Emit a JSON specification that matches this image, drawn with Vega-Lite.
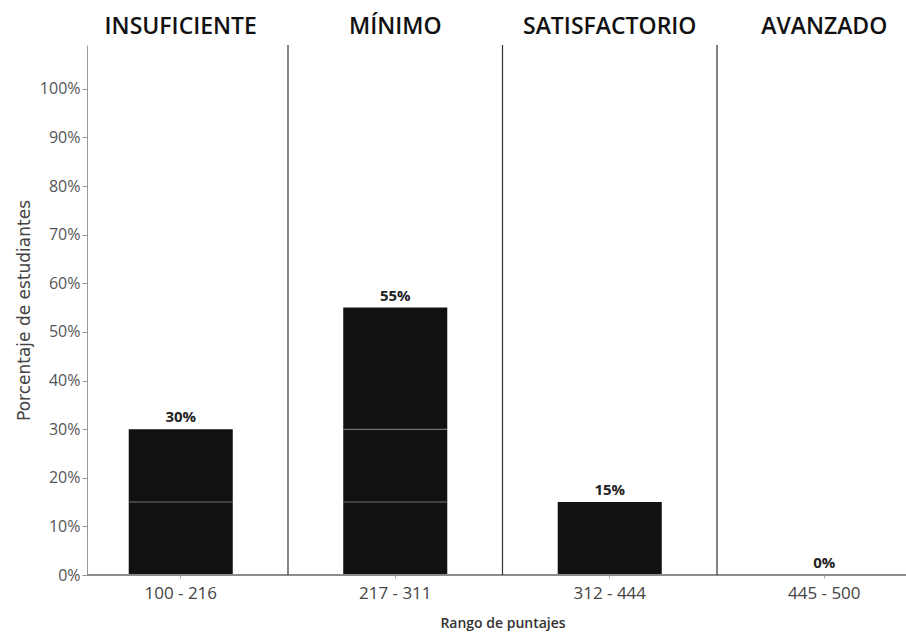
{
  "$schema": "https://vega.github.io/schema/vega-lite/v6.json",
  "width": 819,
  "height": 530,
  "autosize": {"type": "none"},
  "padding": {"left": 87, "top": 45, "right": 0, "bottom": 63},
  "background": "white",
  "config": {"view": {"stroke": null}},
  "data": {
    "values": [
      {"nivel": "INSUFICIENTE", "rango": "100 - 216", "segmento": 1, "pct": 0.15},
      {"nivel": "INSUFICIENTE", "rango": "100 - 216", "segmento": 2, "pct": 0.15},
      {"nivel": "MÍNIMO", "rango": "217 - 311", "segmento": 1, "pct": 0.15},
      {"nivel": "MÍNIMO", "rango": "217 - 311", "segmento": 2, "pct": 0.15},
      {"nivel": "MÍNIMO", "rango": "217 - 311", "segmento": 3, "pct": 0.25},
      {"nivel": "SATISFACTORIO", "rango": "312 - 444", "segmento": 1, "pct": 0.15},
      {"nivel": "AVANZADO", "rango": "445 - 500", "segmento": 1, "pct": 0}
    ]
  },
  "layer": [
    {
      "layer": [
        {
          "mark": {"type": "bar", "color": "#111111"},
          "encoding": {
            "x": {
              "field": "rango", "type": "nominal", "sort": null,
              "scale": {"range": [-13.5, 844.5], "paddingInner": 0.515, "paddingOuter": 0.2575},
              "axis": {
                "orient": "bottom", "domain": false, "ticks": true, "tickSize": 3, "tickColor": "#aaaaaa",
                "labelAngle": 0, "labelFont": "Open Sans", "labelFontSize": 17, "labelColor": "#444444",
                "labelPadding": 7,
                "title": "Rango de puntajes", "titleFont": "Open Sans", "titleFontSize": 14,
                "titleFontWeight": 600, "titleColor": "#333333", "titlePadding": 15
              }
            },
            "y": {
              "field": "pct", "type": "quantitative", "stack": "zero",
              "scale": {"domain": [0, 1.09], "nice": false},
              "axis": {
                "values": [0, 0.1, 0.2, 0.3, 0.4, 0.5, 0.6, 0.7, 0.8, 0.9, 1],
                "format": ".0%", "grid": false,
                "domainColor": "#999999", "tickColor": "#999999", "tickSize": 5,
                "labelFont": "Open Sans", "labelFontSize": 16, "labelColor": "#555555", "labelPadding": 2,
                "title": "Porcentaje de estudiantes", "titleFont": "DejaVu Sans", "titleFontSize": 17,
                "titleFontWeight": "normal", "titleColor": "#444444", "titlePadding": 6
              }
            },
            "detail": {"field": "segmento", "type": "nominal"},
            "order": {"field": "segmento", "type": "quantitative"}
          }
        },
        {
          "transform": [
            {"joinaggregate": [{"op": "max", "field": "segmento", "as": "maxseg"}], "groupby": ["rango"]},
            {"stack": "pct", "groupby": ["rango"], "sort": [{"field": "segmento"}], "as": ["y0", "y1"]},
            {"filter": "datum.segmento < datum.maxseg"}
          ],
          "mark": {"type": "tick", "orient": "horizontal", "size": 104, "thickness": 1, "color": "#9a9a9a"},
          "encoding": {
            "x": {"field": "rango", "type": "nominal", "sort": null},
            "y": {"field": "y1", "type": "quantitative"}
          }
        },
        {
          "mark": {"type": "text", "font": "Open Sans", "fontSize": 15, "fontWeight": "bold", "color": "#222222", "baseline": "alphabetic", "dy": -7},
          "encoding": {
            "x": {"field": "rango", "type": "nominal", "sort": null},
            "y": {"aggregate": "sum", "field": "pct", "type": "quantitative"},
            "text": {"aggregate": "sum", "field": "pct", "type": "quantitative", "format": ".0%"}
          }
        },
        {
          "mark": {"type": "rule", "color": "#8c8c8c", "strokeWidth": 1},
          "encoding": {"y": {"datum": 0}}
        }
      ]
    },
    {
      "transform": [{"filter": "datum.segmento == 1"}],
      "mark": {"type": "rule", "color": "#333333", "strokeWidth": 1.2},
      "encoding": {
        "x": {
          "field": "nivel", "type": "nominal", "sort": null, "bandPosition": 1,
          "scale": {"range": [-13.5, 844.5], "paddingInner": 0, "paddingOuter": 0},
          "axis": {
            "orient": "top", "domain": false, "ticks": false, "labelAngle": 0,
            "labelFont": "Open Sans", "labelFontSize": 23, "labelFontWeight": 600, "labelColor": "#111111",
            "labelPadding": 7, "labelLimit": 0, "title": null
          }
        }
      }
    }
  ],
  "resolve": {"scale": {"x": "independent"}}
}
